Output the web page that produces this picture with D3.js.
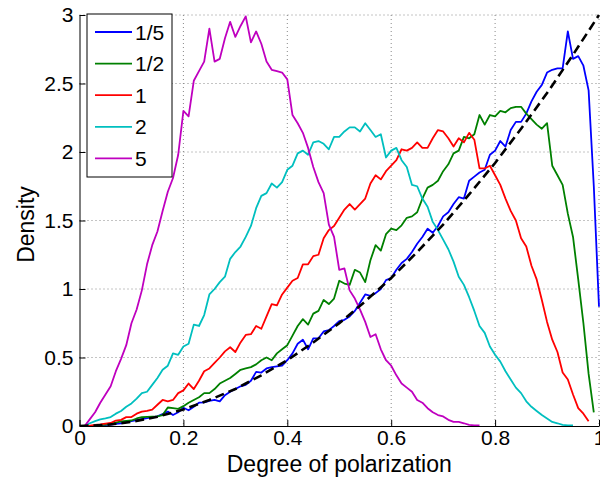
<!DOCTYPE html>
<html>
<head>
<meta charset="utf-8">
<script src="https://cdn.jsdelivr.net/npm/d3@7"></script>
<style>
  html, body { margin: 0; padding: 0; background: #fff; }
  #vis-display { width: 600px; height: 478px; }
  text { font-family: "Liberation Sans", Arial, Helvetica, sans-serif; fill: #000; }
</style>
</head>
<body>
<div id="vis-display"></div>
<script>
// Density of the degree of polarization for several ratios, with the 3x² reference curve (dashed).

const X_TICKS = [0, 0.2, 0.4, 0.6, 0.8, 1];
const Y_TICKS = [0, 0.5, 1, 1.5, 2, 2.5, 3];
const LABELS  = ["1/5", "1/2", "1", "2", "5"];

const X_START = 0.01;
const X_STEP  = 0.01;

const BLUE = [
  0, 0.001, 0.002, 0.004, 0.007, 0.01, 0.015, 0.02, 0.028, 0.035,
  0.043, 0.05, 0.057, 0.063, 0.07, 0.088, 0.105, 0.08, 0.10, 0.133,
  0.115, 0.14, 0.17, 0.172, 0.183, 0.19, 0.18, 0.225, 0.25, 0.27,
  0.29, 0.30, 0.33, 0.395, 0.39, 0.42, 0.43, 0.435, 0.44, 0.48,
  0.53, 0.60, 0.63, 0.56, 0.64, 0.64, 0.69, 0.70, 0.73, 0.765,
  0.775, 0.80, 0.84, 0.90, 0.96, 0.95, 0.97, 1.00, 1.065, 1.08,
  1.14, 1.19, 1.22, 1.27, 1.33, 1.38, 1.44, 1.41, 1.46, 1.53,
  1.56, 1.62, 1.67, 1.66, 1.79, 1.82, 1.85, 1.87, 1.98, 2.01,
  2.08, 2.04, 2.16, 2.22, 2.22, 2.28, 2.37, 2.44, 2.49, 2.58,
  2.60, 2.61, 2.61, 2.88, 2.68, 2.70, 2.63, 2.45, 1.75, 0.87
];

const GREEN = [
  0, 0.001, 0.003, 0.006, 0.01, 0.015, 0.025, 0.034, 0.038, 0.04,
  0.055, 0.064, 0.066, 0.068, 0.07, 0.08, 0.135, 0.13, 0.125, 0.145,
  0.17, 0.19, 0.21, 0.24, 0.24, 0.27, 0.31, 0.33, 0.35, 0.38,
  0.41, 0.42, 0.43, 0.45, 0.48, 0.50, 0.48, 0.53, 0.56, 0.59,
  0.66, 0.73, 0.78, 0.74, 0.82, 0.84, 0.92, 0.89, 0.93, 1.06,
  1.04, 1.03, 1.14, 1.12, 1.05, 1.21, 1.32, 1.28, 1.40, 1.44,
  1.43, 1.465, 1.52, 1.53, 1.56, 1.66, 1.74, 1.76, 1.79, 1.86,
  1.91, 1.99, 2.01, 2.11, 2.10, 2.13, 2.27, 2.20, 2.27, 2.26,
  2.30, 2.29, 2.32, 2.33, 2.33, 2.28, 2.24, 2.20, 2.17, 2.21,
  1.90, 1.83, 1.76, 1.55, 1.38, 1.07, 0.75, 0.38, 0.10
];

const RED = [
  0, 0.003, 0.008, 0.012, 0.018, 0.022, 0.04, 0.045, 0.065, 0.065,
  0.09, 0.105, 0.11, 0.12, 0.155, 0.19, 0.18, 0.19, 0.24, 0.26,
  0.31, 0.27, 0.33, 0.40, 0.42, 0.46, 0.50, 0.545, 0.575, 0.54,
  0.61, 0.665, 0.67, 0.73, 0.71, 0.80, 0.89, 0.88, 0.96, 1.01,
  1.06, 1.08, 1.18, 1.18, 1.24, 1.25, 1.37, 1.43, 1.46, 1.52,
  1.58, 1.62, 1.58, 1.62, 1.66, 1.77, 1.83, 1.80, 1.86, 1.90,
  1.94, 2.02, 2.01, 2.03, 2.07, 2.03, 2.03, 2.10, 2.16, 2.15,
  2.10, 2.04, 2.10, 2.07, 2.14, 2.09, 1.88, 1.88, 1.90, 1.83,
  1.76, 1.66, 1.57, 1.50, 1.37, 1.31, 1.17, 1.07, 0.92, 0.76,
  0.63, 0.54, 0.39, 0.34, 0.23, 0.13, 0.09, 0.035
];

const CYAN = [
  0, 0.02, 0.035, 0.048, 0.055, 0.065, 0.09, 0.11, 0.14, 0.165,
  0.20, 0.24, 0.25, 0.30, 0.35, 0.41, 0.44, 0.53, 0.52, 0.58,
  0.60, 0.74, 0.73, 0.81, 0.96, 1.00, 1.05, 1.09, 1.22, 1.27,
  1.31, 1.38, 1.46, 1.59, 1.68, 1.70, 1.77, 1.74, 1.78, 1.87,
  1.90, 1.99, 2.01, 1.98, 2.07, 2.08, 2.06, 2.02, 2.11, 2.11,
  2.15, 2.18, 2.18, 2.15, 2.21, 2.16, 2.11, 2.13, 1.96, 2.01,
  2.03, 1.94, 1.89, 1.76, 1.75, 1.66, 1.60, 1.49, 1.43, 1.36,
  1.29, 1.20, 1.09, 1.03, 0.94, 0.84, 0.73, 0.68, 0.58, 0.52,
  0.47, 0.40, 0.34, 0.28, 0.24, 0.18, 0.14, 0.11, 0.08, 0.055,
  0.03, 0.02, 0.008, 0.005, 0.005
];

const MAGENTA = [
  0, 0.05, 0.10, 0.17, 0.23, 0.29, 0.40, 0.49, 0.59, 0.75,
  0.85, 0.99, 1.18, 1.32, 1.42, 1.57, 1.71, 1.81, 1.98, 2.30,
  2.26, 2.52, 2.59, 2.66, 2.90, 2.66, 2.68, 2.83, 2.95, 2.84,
  2.92, 2.99, 2.80, 2.88, 2.79, 2.66, 2.60, 2.59, 2.58, 2.53,
  2.27, 2.21, 2.14, 2.03, 1.89, 1.78, 1.70, 1.47, 1.38, 1.14,
  1.15, 0.99, 0.93, 0.85, 0.76, 0.65, 0.67, 0.56, 0.48, 0.44,
  0.37, 0.31, 0.28, 0.25, 0.19, 0.17, 0.13, 0.10, 0.08, 0.07,
  0.045, 0.03, 0.03, 0.02, 0.008, 0.005, 0.005
];

// reference curve, read at 0.05 steps
const REF_X = [0, 0.05, 0.1, 0.15, 0.2, 0.25, 0.3, 0.35, 0.4, 0.45, 0.5,
               0.55, 0.6, 0.65, 0.7, 0.75, 0.8, 0.85, 0.9, 0.95, 1];
const REF_Y = [0, 0.0075, 0.03, 0.0675, 0.12, 0.19, 0.27, 0.37, 0.48, 0.61, 0.75,
               0.91, 1.08, 1.27, 1.47, 1.69, 1.92, 2.17, 2.43, 2.71, 3.0];

const SERIES = [BLUE, GREEN, RED, CYAN, MAGENTA];
const COLORS = ["#0000ff", "#008000", "#ff0000", "#00bfbf", "#bf00bf"];

const W = 600, H = 478;
const margin = { top: 15, right: 1, bottom: 52, left: 79.5 };
const innerW = W - margin.left - margin.right;
const innerH = H - margin.top - margin.bottom;

const x = d3.scaleLinear().domain([0, 1]).range([0, innerW]);
const y = d3.scaleLinear().domain([0, 3]).range([innerH, 0]);

const svg = d3.select("#vis-display").append("svg")
  .attr("width", W)
  .attr("height", H);

svg.append("defs").append("clipPath").attr("id", "plot-clip")
  .append("rect").attr("y", -2).attr("width", innerW + 2).attr("height", innerH + 2);

const g = svg.append("g")
  .attr("transform", `translate(${margin.left},${margin.top})`);

// ── Grid (dotted, also along the top and right edges) ────────────────────

g.append("g").selectAll("line")
  .data(X_TICKS.slice(1))
  .join("line")
    .attr("x1", d => x(d)).attr("x2", d => x(d))
    .attr("y1", 0).attr("y2", innerH)
    .attr("stroke", "#888").attr("stroke-dasharray", "1,3");

g.append("g").selectAll("line")
  .data(Y_TICKS.slice(1))
  .join("line")
    .attr("x1", 0).attr("x2", innerW)
    .attr("y1", d => y(d)).attr("y2", d => y(d))
    .attr("stroke", "#888").attr("stroke-dasharray", "1,3");

// ── Curves ────────────────────────────────────────────────────────────────

const line = d3.line()
  .x(d => x(d[0]))
  .y(d => y(d[1]));

const plot = g.append("g").attr("clip-path", "url(#plot-clip)");

SERIES.forEach((vals, i) => {
  plot.append("path")
    .datum(vals.map((v, k) => [X_START + k * X_STEP, v]))
    .attr("d", line)
    .attr("fill", "none")
    .attr("stroke", COLORS[i])
    .attr("stroke-width", 1.8)
    .attr("stroke-linejoin", "round");
});

plot.append("path")
  .datum(REF_X.map((v, k) => [v, REF_Y[k]]))
  .attr("d", line)
  .attr("fill", "none")
  .attr("stroke", "#000")
  .attr("stroke-width", 2.6)
  .attr("stroke-dasharray", "9,5");

// ── Axes ──────────────────────────────────────────────────────────────────

const xAxis = g.append("g")
  .attr("transform", `translate(0,${innerH})`)
  .call(d3.axisBottom(x).tickValues(X_TICKS).tickSize(-6).tickSizeOuter(0).tickPadding(4).tickFormat(d => String(d)));

const yAxis = g.append("g")
  .call(d3.axisLeft(y).tickValues(Y_TICKS).tickSize(-6).tickSizeOuter(0).tickPadding(6).tickFormat(d => String(d)));

[xAxis, yAxis].forEach(ax => {
  ax.select(".domain").attr("stroke", "#000").attr("stroke-width", 1);
  ax.selectAll(".tick line").attr("stroke", "#000");
  ax.selectAll("text")
    .style("font-size", "21px")
    .style("font-family", "'Liberation Sans', Arial, sans-serif")
    .attr("fill", "#000");
});
xAxis.selectAll("text").attr("dy", "0.72em");

g.append("text")
  .attr("x", innerW / 2)
  .attr("y", innerH + 46)
  .attr("text-anchor", "middle")
  .style("font-size", "23px")
  .text("Degree of polarization");

g.append("text")
  .attr("transform", "rotate(-90)")
  .attr("x", -innerH / 2 - 4)
  .attr("y", -46)
  .attr("text-anchor", "middle")
  .style("font-size", "23px")
  .text("Density");

// ── Legend ────────────────────────────────────────────────────────────────

const legend = svg.append("g").attr("transform", "translate(87,14)");

legend.append("rect")
  .attr("width", 85).attr("height", 163)
  .attr("fill", "#fff").attr("stroke", "#000").attr("stroke-width", 1);

LABELS.forEach((lab, i) => {
  const ly = 18 + i * 31.6;
  legend.append("line")
    .attr("x1", 8).attr("x2", 45)
    .attr("y1", ly).attr("y2", ly)
    .attr("stroke", COLORS[i]).attr("stroke-width", 1.8);
  legend.append("text")
    .attr("x", 48).attr("y", ly)
    .attr("dy", "0.36em")
    .style("font-size", "21px")
    .text(lab);
});
</script>
</body>
</html>
